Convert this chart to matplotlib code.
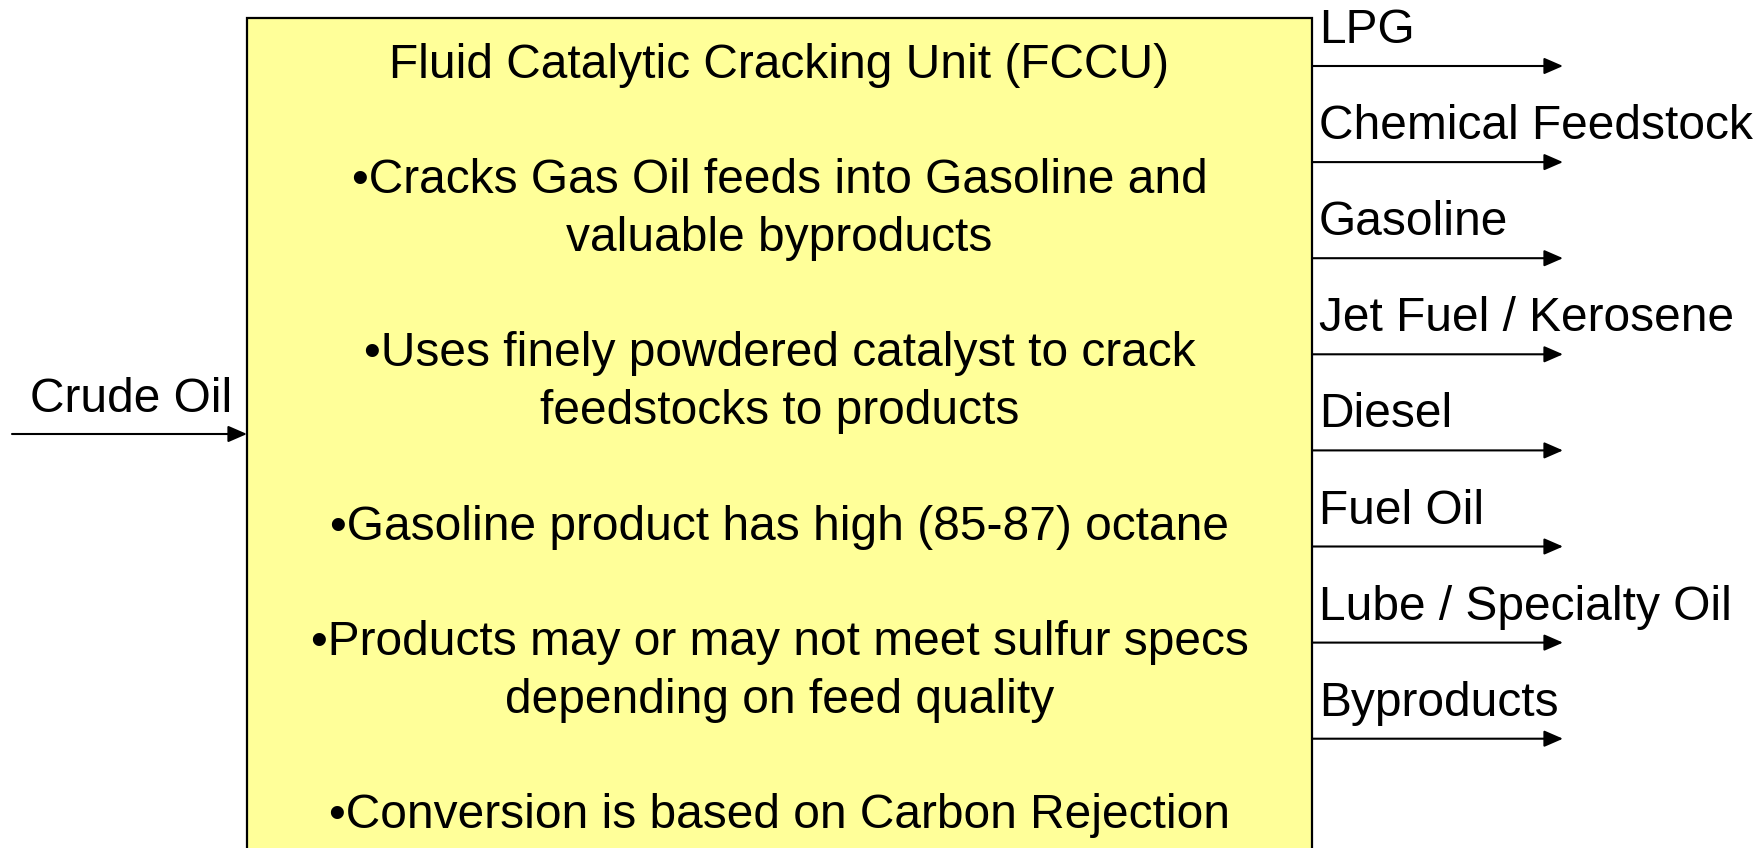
import matplotlib
matplotlib.use("Agg")
import matplotlib.pyplot as plt
from matplotlib.patches import Rectangle, FancyArrowPatch, ArrowStyle

plt.rcParams['font.family'] = ['Liberation Sans', 'DejaVu Sans']

# ---- data ----
unit_title = "Fluid Catalytic Cracking Unit (FCCU)"
bullets = [
    ["\u2022Cracks Gas Oil feeds into Gasoline and", "valuable byproducts"],
    ["\u2022Uses finely powdered catalyst to crack", "feedstocks to products"],
    ["\u2022Gasoline product has high (85-87) octane"],
    ["\u2022Products may or may not meet sulfur specs", "depending on feed quality"],
    ["\u2022Conversion is based on Carbon Rejection"],
]
feed_label = "Crude Oil"
products = ["LPG", "Chemical Feedstock", "Gasoline", "Jet Fuel / Kerosene",
            "Diesel", "Fuel Oil", "Lube / Specialty Oil", "Byproducts"]

# ---- layout (pixel coordinates) ----
W, H = 1765, 848
fig = plt.figure(figsize=(W / 100, H / 100), dpi=100)
ax = fig.add_axes([0, 0, 1, 1])
ax.set_xlim(0, W)
ax.set_ylim(H, 0)
ax.axis('off')

box_l, box_r, box_t = 247, 1312, 18
ax.add_patch(Rectangle((box_l, box_t), box_r - box_l, 1000,
                       facecolor='#FFFF99', edgecolor='black', linewidth=1.6, zorder=1))

fs = 34.5
cx = (box_l + box_r) / 2
lines = [unit_title, ""]
for para in bullets:
    lines.extend(para)
    lines.append("")
base0, pitch = 78, 57.7
for k, txt in enumerate(lines):
    if txt:
        ax.text(cx, base0 + pitch * k, txt, ha='center', va='baseline',
                fontsize=fs, color='black', zorder=3)

style = ArrowStyle('-|>', head_length=11.5, head_width=5)

def arrow(x0, x1, y):
    ax.add_patch(FancyArrowPatch((x0, y), (x1, y), arrowstyle=style,
                                 mutation_scale=1, shrinkA=0, shrinkB=0,
                                 color='black', linewidth=1.5, zorder=4))

# feed
feed_y = 434
arrow(12, box_l, feed_y)
ax.text(232, feed_y - 22, feed_label, ha='right', va='baseline', fontsize=fs)

# products
y0, dy = 66, 96.1
for i, name in enumerate(products):
    y = y0 + dy * i
    arrow(box_r, 1563, y)
    ax.text(1319, y - 23, name, ha='left', va='baseline', fontsize=fs)

fig.savefig("out.png", dpi=100)
